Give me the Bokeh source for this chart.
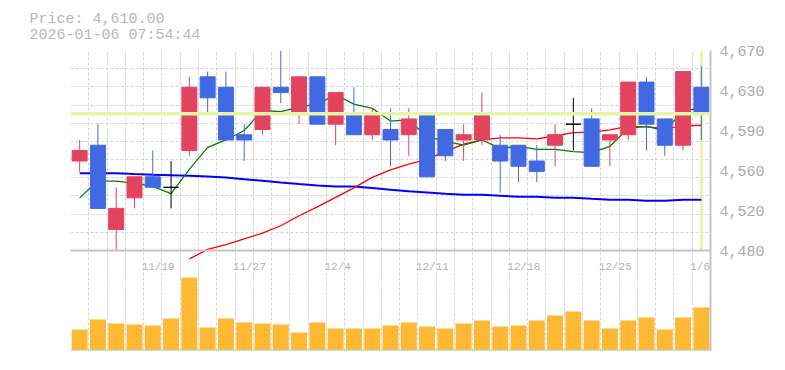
from bokeh.plotting import figure
from bokeh.models import Range1d, FixedTicker, Span, Title
from bokeh.core.properties import value
from bokeh.embed import file_html
from bokeh.resources import INLINE

# ---------------- data ----------------
dates = ["11/13", "11/14", "11/17", "11/18", "11/19", "11/20", "11/21", "11/25",
         "11/26", "11/27", "11/28", "12/1", "12/2", "12/3", "12/4", "12/5",
         "12/8", "12/9", "12/10", "12/11", "12/12", "12/15", "12/16", "12/17",
         "12/18", "12/19", "12/22", "12/23", "12/24", "12/25", "12/26", "12/29",
         "12/30", "1/5", "1/6"]
open_ = [4565, 4580, 4500, 4530, 4550, 4540, 4575, 4645, 4635, 4590, 4595, 4635,
         4610, 4645, 4600, 4610, 4590, 4595, 4590, 4610, 4595, 4585, 4585, 4580,
         4580, 4565, 4580, 4600, 4605, 4585, 4590, 4640, 4605, 4580, 4635]
high = [4585, 4600, 4540, 4550, 4575, 4565, 4645, 4650, 4650, 4600, 4635, 4670,
        4645, 4645, 4630, 4635, 4615, 4615, 4615, 4610, 4595, 4600, 4630, 4590,
        4580, 4580, 4600, 4625, 4615, 4590, 4640, 4645, 4605, 4650, 4655]
low = [4555, 4520, 4480, 4520, 4540, 4520, 4570, 4610, 4585, 4565, 4590, 4620,
       4600, 4600, 4580, 4590, 4585, 4560, 4570, 4550, 4565, 4565, 4580, 4535,
       4545, 4545, 4560, 4575, 4560, 4560, 4585, 4575, 4570, 4575, 4585]
close = [4575, 4520, 4520, 4550, 4540, 4540, 4635, 4625, 4585, 4585, 4635, 4630,
         4645, 4600, 4630, 4590, 4610, 4585, 4605, 4550, 4570, 4590, 4610, 4565,
         4560, 4555, 4590, 4600, 4560, 4590, 4640, 4600, 4580, 4650, 4610]
volume = [210, 310, 270, 260, 250, 320, 730, 230, 320, 280, 270, 260, 180, 280,
          220, 220, 220, 250, 280, 240, 220, 270, 300, 240, 250, 300, 350, 390,
          300, 220, 300, 330, 210, 330, 430]
ma5 = [4530, 4546, 4546, 4544, 4541, 4534, 4557, 4578, 4585, 4594, 4613, 4612,
       4616, 4619, 4628, 4619, 4615, 4603, 4604, 4588, 4584, 4580, 4585, 4577,
       4579, 4576, 4576, 4574, 4573, 4579, 4596, 4598, 4594, 4612, 4616]
ma25 = [None, None, None, None, None, None, 4472, 4481, 4485.5, 4491, 4496.5,
        4503.5, 4513, 4521.5, 4530.5, 4539.5, 4549.5, 4556.5, 4562, 4566.5, 4574,
        4581, 4585, 4587, 4587, 4586, 4589, 4592, 4592.5, 4594.6, 4598, 4597.5,
        4596, 4598.2, 4599]
ma75 = [4553.5, 4553.5, 4553.5, 4552.6, 4552, 4551.5, 4551, 4550.3, 4549.4,
        4547.8, 4546.2, 4544.6, 4543.1, 4541.8, 4540.8, 4540.8, 4539.3, 4537.7,
        4536.3, 4535.1, 4533.8, 4533, 4532.9, 4532, 4531, 4531, 4530.1, 4530.1,
        4529.1, 4528.2, 4528.2, 4527.2, 4527.2, 4528.2, 4528.2]
tick_dates = ["11/19", "11/27", "12/4", "12/11", "12/18", "12/25", "1/6"]
y_tick_values = [4480, 4518, 4556, 4594, 4632, 4670]
y_tick_labels = ["4,480", "4,520", "4,560", "4,590", "4,630", "4,670"]
timestamp = "2026-01-06 07:54:44"

# ---------------- styling ----------------
UP = "#e2445f"
DOWN = "#4169e1"
DOJI = "#000000"
VOL = "#fdb834"
HIGHLIGHT = "#e5f5a8"
GRID = "#d4d4d4"
FRAME = "#c4c4c4"
TEXT = "#aaaaaa"
FONT = "Liberation Mono"

n = len(dates)
xs = list(range(n))
price_lo, price_hi = min(low), max(high)
y_start = price_lo - (price_hi - price_lo) * 0.5

p = figure(width=777, height=360, output_backend="svg", toolbar_location=None,
           title=None, x_range=Range1d(-0.5, n - 0.5),
           y_range=Range1d(y_start, price_hi),
           y_axis_location="right", x_axis_location=None,
           min_border_left=70, min_border_right=67, min_border_top=50,
           min_border_bottom=10)
p.extra_y_ranges = {"vol": Range1d(0, 3000)}
p.outline_line_color = None
p.background_fill_color = "white"
p.border_fill_color = "white"

# grids
p.xgrid.ticker = FixedTicker(ticks=[k - 0.5 for k in range(n + 1)])
p.ygrid.ticker = FixedTicker(ticks=[price_lo + k * (price_hi - price_lo) / 11 for k in range(1, 12)])
for g in (p.xgrid[0], p.ygrid[0]):
    g.grid_line_color = GRID
    g.grid_line_dash = "3 2"
    g.grid_line_width = 1

# right axis
ax = p.yaxis[0]
ax.ticker = FixedTicker(ticks=y_tick_values)
ax.major_label_overrides = dict(zip(y_tick_values, y_tick_labels))
ax.major_tick_line_color = None
ax.minor_tick_line_color = None
ax.major_tick_out = 0
ax.major_tick_in = 0
ax.major_label_standoff = 9
ax.axis_line_color = FRAME
ax.axis_line_width = 2
ax.major_label_text_font = FONT
ax.major_label_text_font_size = "15px"
ax.major_label_text_color = TEXT

# panel borders
p.add_layout(Span(location=price_lo, dimension="width", line_color=FRAME, line_width=2))
p.add_layout(Span(location=y_start, dimension="width", line_color=FRAME, line_width=2))

# highlight of current price
p.add_layout(Span(location=close[-1], dimension="width", line_color=HIGHLIGHT, line_width=3.5))
p.segment(x0=[xs[-1]], y0=[price_lo], x1=[xs[-1]], y1=[price_hi],
          line_color=HIGHLIGHT, line_width=3)

# moving averages
p.line(xs, ma75, line_color="#0000ff", line_width=2)
ma25_x = [x for x, v in zip(xs, ma25) if v is not None]
ma25_y = [v for v in ma25 if v is not None]
p.line(ma25_x, ma25_y, line_color="#ff0000", line_width=1.3)
p.line(xs, ma5, line_color="#008000", line_width=1.3)

# volume
p.vbar(x=xs, top=volume, width=0.875, bottom=0, y_range_name="vol",
       fill_color=VOL, line_color=None)

# candles
colors = [UP if c > o else (DOWN if c < o else DOJI) for o, c in zip(open_, close)]
p.segment(x0=xs, y0=high, x1=xs, y1=low, line_color=colors, line_width=1)
p.vbar(x=xs, width=0.82, top=[max(o, c) for o, c in zip(open_, close)],
       bottom=[min(o, c) for o, c in zip(open_, close)],
       fill_color=colors, line_color=colors, line_width=1)

# date labels
p.text(x=[dates.index(d) - 0.5 for d in tick_dates], y=[price_lo] * len(tick_dates),
       text=tick_dates, text_font=value(FONT), text_font_size=value("11px"),
       text_color="#b4b4b4", text_align="left", text_baseline="alphabetic",
       x_offset=-2, y_offset=16.5)

# header (two lines above the frame)
p.add_layout(Title(text=f"Price: {close[-1]:,.2f}\n{timestamp}", align="left",
                   offset=-41, standoff=12, text_line_height=0.97,
                   text_font=FONT, text_font_size="15px", text_font_style="normal",
                   text_color="#b8b8b8"), "above")

open("out.html", "w").write(file_html(p, INLINE))
